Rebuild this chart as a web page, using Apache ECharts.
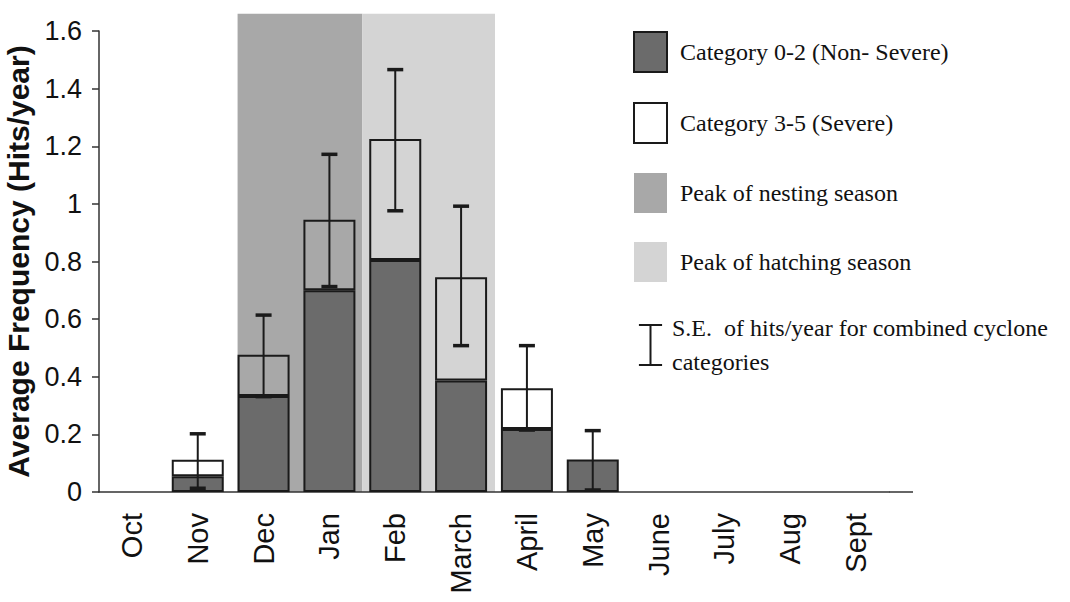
<!DOCTYPE html>
<html>
<head>
<meta charset="utf-8">
<script src="https://cdn.jsdelivr.net/npm/echarts@6/dist/echarts.min.js"></script>
<style>
  html, body { margin: 0; background: #fff; }
  #chart { width: 1070px; height: 602px; }
</style>
</head>
<body>
<div id="chart"></div>
<script>
const months = ['Oct', 'Nov', 'Dec', 'Jan', 'Feb', 'March', 'April', 'May', 'June', 'July', 'Aug', 'Sept'];
const nonSevere = [0, 0.055, 0.333, 0.70, 0.805, 0.387, 0.219, 0.113, 0, 0, 0, 0];
const severe = [0, 0.057, 0.143, 0.245, 0.42, 0.358, 0.141, 0, 0, 0, 0, 0];
const seLow = [null, 0.013, 0.331, 0.713, 0.976, 0.508, 0.215, 0.007, null, null, null, null];
const seHigh = [null, 0.202, 0.614, 1.172, 1.466, 0.992, 0.508, 0.213, null, null, null, null];
const nesting = ['Dec', 'Jan'];
const hatching = ['Feb', 'March'];
const shadeTop = 1.66;
const yTicks = [0, 0.2, 0.4, 0.6, 0.8, 1, 1.2, 1.4, 1.6];

const SE_NAME = 'S.E.  of hits/year for combined cyclone\ncategories';
const BAR_W = 52;
const INK = '#1a1a1a';

// zero months have no bar at all
const noZero = arr => arr.map(v => (v ? v : null));

function shade(fromBar) {
  return function (params, api) {
    const a = api.coord([api.value(0), 0]);
    const b = api.coord([api.value(1), api.value(2)]);
    const band = api.size([1, 0])[0];
    const x0 = a[0] - (fromBar ? BAR_W / 2 : band / 2);
    const x1 = b[0] + band / 2 + (fromBar ? 0 : 1);
    return {
      type: 'rect',
      shape: { x: x0, y: b[1], width: x1 - x0, height: a[1] - b[1] },
      style: api.style()
    };
  };
}

function errorBar(params, api) {
  const lo = api.coord([api.value(0), api.value(1)]);
  const hi = api.coord([api.value(0), api.value(2)]);
  const cap = 8;
  return {
    type: 'group',
    children: [
      { type: 'line', shape: { x1: lo[0], y1: lo[1], x2: hi[0], y2: hi[1] }, style: { stroke: INK, lineWidth: 2 } },
      { type: 'line', shape: { x1: hi[0] - cap, y1: hi[1], x2: hi[0] + cap, y2: hi[1] }, style: { stroke: INK, lineWidth: 3.5 } },
      { type: 'line', shape: { x1: lo[0] - cap, y1: lo[1], x2: lo[0] + cap, y2: lo[1] }, style: { stroke: INK, lineWidth: 3.5 } }
    ]
  };
}

const chart = echarts.init(document.getElementById('chart'), null, { renderer: 'svg' });

chart.setOption({
  animation: false,
  backgroundColor: '#fff',
  grid: { left: 99, right: 181, top: 31, bottom: 110, outerBoundsMode: 'none', containLabel: false },
  legend: {
    orient: 'vertical',
    left: 633,
    top: 31,
    padding: 0,
    itemWidth: 33,
    itemHeight: 40,
    itemGap: 29,
    selectedMode: false,
    textStyle: { fontFamily: 'Liberation Serif', fontSize: 24, color: '#111', lineHeight: 34, padding: [0, 0, 0, 8] },
    data: [
      { name: 'Category 0-2 (Non- Severe)', icon: 'rect' },
      { name: 'Category 3-5 (Severe)', icon: 'rect' },
      { name: 'Peak of nesting season', icon: 'rect' },
      { name: 'Peak of hatching season', icon: 'rect' },
      {
        name: SE_NAME,
        icon: 'path://M0,0L22,0M11,0L11,38M0,38L22,38',
        itemStyle: { color: 'none', borderColor: INK, borderWidth: 2 },
        textStyle: { padding: [0, 0, 0, 0] }
      }
    ]
  },
  xAxis: {
    type: 'category',
    data: months,
    axisLine: { lineStyle: { color: '#333', width: 1.5 } },
    axisTick: { length: 9, lineStyle: { color: '#333', width: 1.5 } },
    axisLabel: { rotate: 90, margin: 21, fontFamily: 'Liberation Sans', fontSize: 29, color: '#111' }
  },
  yAxis: {
    type: 'value',
    min: yTicks[0],
    max: yTicks[yTicks.length - 1],
    interval: yTicks[1] - yTicks[0],
    name: 'Average Frequency (Hits/year)',
    nameLocation: 'middle',
    nameGap: 58,
    nameTextStyle: { fontFamily: 'Liberation Sans', fontWeight: 'bold', fontSize: 30, color: '#111' },
    splitLine: { show: false },
    axisLine: { show: true, lineStyle: { color: '#333', width: 1.5 } },
    axisTick: { show: true, length: 7, lineStyle: { color: '#333', width: 1.5 } },
    axisLabel: { margin: 17, fontFamily: 'Liberation Sans', fontSize: 27, color: '#111' }
  },
  graphic: [
    { type: 'line', shape: { x1: 889, y1: 492, x2: 913, y2: 492 }, style: { stroke: '#333', lineWidth: 1.5 } }
  ],
  series: [
    {
      name: 'Peak of nesting season',
      type: 'custom',
      clip: false,
      z: 0,
      itemStyle: { color: '#a8a8a8' },
      encode: { x: [0, 1], y: 2 },
      data: [[months.indexOf(nesting[0]), months.indexOf(nesting[1]), shadeTop]],
      renderItem: shade(true)
    },
    {
      name: 'Peak of hatching season',
      type: 'custom',
      clip: false,
      z: 0,
      itemStyle: { color: '#d4d4d4' },
      encode: { x: [0, 1], y: 2 },
      data: [[months.indexOf(hatching[0]), months.indexOf(hatching[1]), shadeTop]],
      renderItem: shade(false)
    },
    {
      name: 'Category 0-2 (Non- Severe)',
      type: 'bar',
      stack: 'total',
      barWidth: BAR_W,
      itemStyle: { color: '#6b6b6b', borderColor: INK, borderWidth: 2 },
      data: noZero(nonSevere)
    },
    {
      name: 'Category 3-5 (Severe)',
      type: 'bar',
      stack: 'total',
      barWidth: BAR_W,
      itemStyle: { color: 'rgba(255,255,255,0)', borderColor: INK, borderWidth: 2 },
      data: noZero(severe)
    },
    {
      name: SE_NAME,
      type: 'custom',
      z: 5,
      clip: false,
      itemStyle: { color: INK },
      encode: { x: 0, y: [1, 2] },
      data: months.map((m, i) => [i, seLow[i], seHigh[i]]).filter(d => d[1] != null),
      renderItem: errorBar
    }
  ]
});
</script>
</body>
</html>
